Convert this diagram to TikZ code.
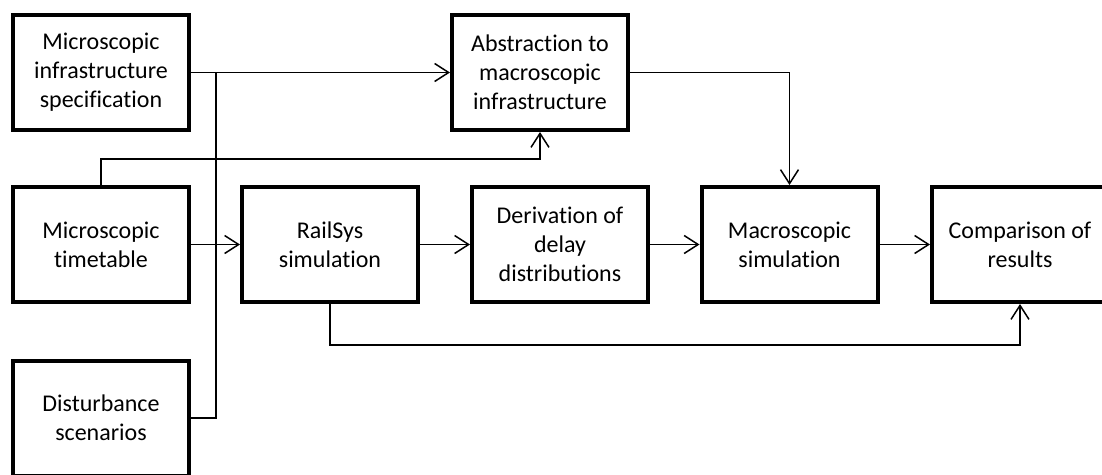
\documentclass[tikz,border=0pt]{standalone}
\usepackage{fontspec}
\setmainfont{Carlito}[RawFeature=-liga]
\usetikzlibrary{arrows.meta}
\begin{document}
\begin{tikzpicture}[x=1pt,y=-1pt,
  stepbox/.style={draw,line width=4pt,rectangle,minimum width=176pt,minimum height=115pt,
    inner sep=0pt,align=center,font=\fontsize{24}{29}\selectfont},
  conn/.style={line width=1.5pt},
  arr/.style={conn,-{Straight Barb[length=14pt,width=18pt,line width=1.5pt]}}]
\useasboundingbox (0,0) rectangle (1102,474);
\node[stepbox] (b1) at (101,72.5) {Microscopic\\infrastructure\\specification};
\node[stepbox] (b2) at (540,72.5) {Abstraction to\\macroscopic\\infrastructure};
\node[stepbox] (b3) at (101,244.5) {Microscopic\\timetable};
\node[stepbox] (b4) at (330,244.5) {RailSys\\simulation};
\node[stepbox] (b5) at (560,244.5) {Derivation of\\delay\\distributions};
\node[stepbox] (b6) at (789.5,244.5) {Macroscopic\\simulation};
\node[stepbox] (b7) at (1020,244.5) {Comparison of\\results};
\node[stepbox] (b8) at (101,418) {Disturbance\\scenarios};
\coordinate (j1) at (216,72.5);
\coordinate (c1) at (0,159);
\coordinate (c2) at (0,345);
\draw[arr] (b1.east) -- (b2.west);
\draw[conn] (b8.east) -| (j1);
\draw[arr] (b3.east) -- (b4.west);
\draw[arr] (b3.north) -- (b3.north |- c1) -| (b2.south);
\draw[arr] (b2.east) -| (b6.north);
\draw[arr] (b4.east) -- (b5.west);
\draw[arr] (b5.east) -- (b6.west);
\draw[arr] (b6.east) -- (b7.west);
\draw[arr] (b4.south) -- (b4.south |- c2) -| (b7.south);
\end{tikzpicture}
\end{document}
